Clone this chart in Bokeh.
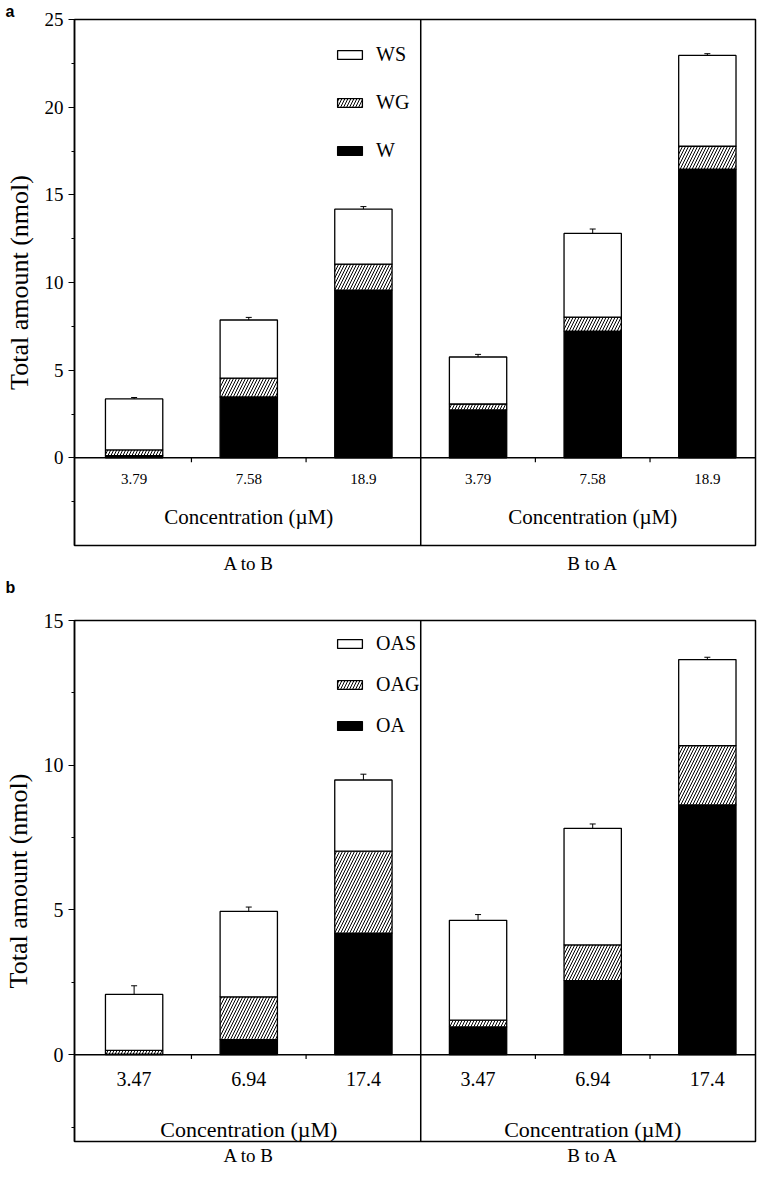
from bokeh.plotting import figure
from bokeh.models import (ColumnDataSource, FixedTicker, Span, Whisker, TeeHead,
                          Legend, LegendItem, Title, Range1d)
from bokeh.layouts import column
from bokeh.core.properties import value
from bokeh.embed import file_html
from bokeh.resources import INLINE

# ---------------- data ----------------
directions = ["A to B", "B to A"]

# panel a
conc_a = ["3.79", "7.58", "18.9"]
names_a = ["W", "WG", "WS"]
w_vals = [0.12, 3.47, 9.57, 2.73, 7.23, 16.46]
wg_vals = [0.33, 1.08, 1.48, 0.34, 0.80, 1.31]
ws_vals = [2.91, 3.31, 3.13, 2.68, 4.77, 5.18]
w_err = [0.03, 0.10, 0.10, 0.20, 0.30, 1.20]
wg_err = [0.05, 0.08, 0.10, 0.08, 0.05, 0.05]
ws_err = [0.08, 0.15, 0.15, 0.15, 0.25, 0.10]

# panel b
conc_b = ["3.47", "6.94", "17.4"]
names_b = ["OA", "OAG", "OAS"]
oa_vals = [0.02, 0.52, 4.20, 0.96, 2.56, 8.63]
oag_vals = [0.13, 1.48, 2.83, 0.23, 1.23, 2.05]
oas_vals = [1.93, 2.95, 2.46, 3.45, 4.03, 2.97]
oa_err = [0.02, 0.05, 0.10, 0.05, 0.10, 0.65]
oag_err = [0.05, 0.05, 0.15, 0.05, 0.05, 0.05]
oas_err = [0.30, 0.15, 0.20, 0.20, 0.15, 0.08]

yticks_a = [0, 5, 10, 15, 20, 25]
yminor_a = [-2.5, 2.5, 7.5, 12.5, 17.5, 22.5]
yticks_b = [0, 5, 10, 15]
yminor_b = [-2.5, 2.5, 7.5, 12.5]

SERIF = "Liberation Serif"
SANS = "Liberation Sans"


def make_panel(concs, names, series, errs, y_start, y_end, yticks,
               yminor, frame_h, top_border, bottom_border, cat_y, conc_y,
               cat_fs, conc_fs, tick_fs, legend_loc, legend_spacing,
               xlab_standoff, tick_len):
    n = len(concs)
    xs = [g * n + i + 0.5 for g in range(len(directions)) for i in range(n)]
    cats = concs * len(directions)

    p = figure(frame_width=681, frame_height=frame_h,
               x_range=Range1d(-0.02, 5.92), y_range=Range1d(y_start, y_end),
               output_backend="svg", toolbar_location=None,
               min_border_left=69, min_border_right=3,
               min_border_top=top_border, min_border_bottom=bottom_border,
               background_fill_color="white", border_fill_color="white")
    p.xgrid.visible = False
    p.ygrid.visible = False
    p.outline_line_color = "black"
    p.outline_line_width = 1.5
    p.outline_line_alpha = 1

    styles = [
        dict(fill_color="black"),
        dict(fill_color="white", hatch_pattern="/", hatch_color="black",
             hatch_scale=6, hatch_weight=1),
        dict(fill_color="white"),
    ]
    bottom = [0.0] * len(xs)
    renderers = []
    for vals, err, st in zip(series, errs, styles):
        top = [b + v for b, v in zip(bottom, vals)]
        src = ColumnDataSource(dict(x=xs, bottom=bottom, top=top))
        r = p.vbar(x="x", width=0.5, bottom="bottom", top="top", source=src,
                   line_color="black", line_width=1.3, **st)
        renderers.append(r)
        esrc = ColumnDataSource(dict(x=xs, lo=top,
                                     hi=[t + e for t, e in zip(top, err)]))
        p.add_layout(Whisker(base="x", lower="lo", upper="hi", source=esrc,
                             dimension="height", line_color="black",
                             line_width=1, lower_head=None,
                             upper_head=TeeHead(size=6, line_width=1,
                                                line_color="black")))
        bottom = top

    p.add_layout(Span(location=0, dimension="width", line_color="black",
                      line_width=1.5))
    p.add_layout(Span(location=n, dimension="height", line_color="black",
                      line_width=1.5))
    bx = [g * n + i for g in range(len(directions)) for i in range(1, n)]
    p.segment(x0=bx, y0=[0] * len(bx), x1=bx, y1=[-tick_len] * len(bx),
              line_color="black", line_width=1.2)

    p.text(x=xs, y=[cat_y] * len(xs), text=cats, text_align="center",
           text_baseline="middle", text_font=value(SERIF),
           text_font_size=f"{cat_fs}px", text_color="black")
    centers = [g * n + n / 2 for g in range(len(directions))]
    p.text(x=centers, y=[conc_y] * len(centers),
           text=["Concentration (\u00b5M)"] * len(centers),
           text_align="center", text_baseline="middle",
           text_font=value(SERIF), text_font_size=f"{conc_fs}px",
           text_color="black")

    xa = p.xaxis[0]
    xa.ticker = FixedTicker(ticks=centers)
    xa.major_label_overrides = {c: d for c, d in zip(centers, directions)}
    xa.axis_line_color = None
    xa.major_tick_line_color = None
    xa.minor_tick_line_color = None
    xa.major_tick_out = 0
    xa.major_tick_in = 0
    xa.minor_tick_out = 0
    xa.minor_tick_in = 0
    xa.major_label_standoff = xlab_standoff
    xa.major_label_text_font = SERIF
    xa.major_label_text_font_size = "19px"
    xa.major_label_text_color = "black"

    ya = p.yaxis[0]
    ya.ticker = FixedTicker(ticks=yticks, minor_ticks=yminor)
    ya.axis_line_width = 1.5
    ya.axis_line_color = "black"
    ya.major_tick_out = 6
    ya.major_tick_in = 0
    ya.minor_tick_out = 3
    ya.minor_tick_in = 0
    ya.major_tick_line_width = 1.2
    ya.minor_tick_line_width = 1.2
    ya.major_label_standoff = 5
    ya.major_label_text_font = SERIF
    ya.major_label_text_font_size = f"{tick_fs}px"
    ya.major_label_text_color = "black"
    ya.axis_label = "Total amount (nmol)"
    ya.axis_label_text_font = SERIF
    ya.axis_label_text_font_style = "normal"
    ya.axis_label_text_font_size = "26px"
    ya.axis_label_text_color = "black"
    ya.axis_label_standoff = 8

    legend = Legend(items=[LegendItem(label=nm, renderers=[r]) for nm, r in
                           reversed(list(zip(names, renderers)))],
                    location=legend_loc, glyph_width=31, glyph_height=11,
                    label_standoff=11, spacing=legend_spacing, label_height=22,
                    padding=0, margin=0, border_line_color=None,
                    background_fill_alpha=0, label_text_font=SERIF,
                    label_text_font_size="20px", label_text_color="black")
    p.add_layout(legend)
    return p


pa = make_panel(conc_a, names_a, [w_vals, wg_vals, ws_vals],
                [w_err, wg_err, ws_err], -5, 25, yticks_a, yminor_a,
                frame_h=526, top_border=18, bottom_border=0, cat_y=-1.2,
                conc_y=-3.4, cat_fs=15, conc_fs=21, tick_fs=19,
                legend_loc=(260, 383), legend_spacing=25, xlab_standoff=7,
                tick_len=0.25)
pa.title = Title(text="a", align="left", offset=-69, standoff=0,
                 text_font=SANS, text_font_style="bold",
                 text_font_size="16px", text_color="black")
# panel letter "b": at the bottom-left of the upper figure, as in the reference
pa.add_layout(Title(text="b", align="left", offset=-69, standoff=0,
                    text_font=SANS, text_font_style="bold",
                    text_font_size="16px", text_color="black"), "below")

pb = make_panel(conc_b, names_b, [oa_vals, oag_vals, oas_vals],
                [oa_err, oag_err, oas_err], -3, 15, yticks_b, yminor_b,
                frame_h=521, top_border=25, bottom_border=0, cat_y=-0.85,
                conc_y=-2.6, cat_fs=20, conc_fs=22, tick_fs=20,
                legend_loc=(260, 404), legend_spacing=18, xlab_standoff=3,
                tick_len=0.15)

layout = column(pa, pb, spacing=0)
open("out.html", "w").write(file_html(layout, INLINE))
